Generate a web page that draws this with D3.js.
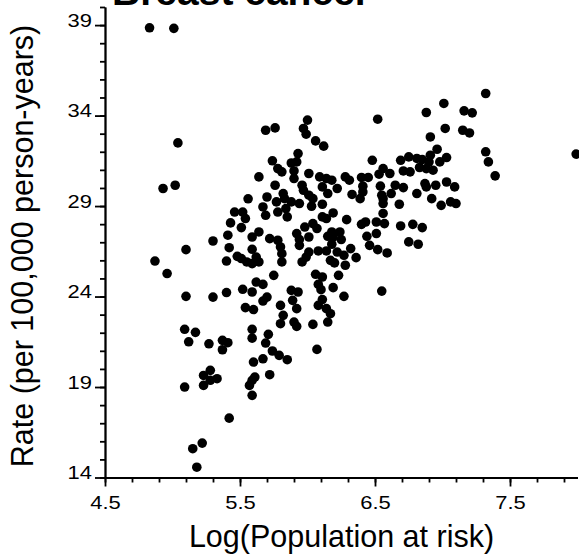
<!DOCTYPE html>
<html>
<head>
<meta charset="utf-8">
<style>
  body { margin: 0; background: #fff; }
  text { font-family: "Liberation Sans", Arial, sans-serif; fill: #000; }
</style>
</head>
<body>
<script src="https://d3js.org/d3.v7.min.js"></script>
<script>
    var width = 579, height = 556;

    // log(population at risk) for each area
    var logPop = [4.83, 5.01, 5.04, 4.93, 5.02, 5.64, 5.56, 5.46, 5.52, 5.54, 5.43, 5.51, 5.41, 5.30, 5.59,
        5.64, 5.10, 5.42, 5.59, 5.48, 5.51, 5.40, 5.55, 5.59, 5.64, 4.87, 4.96, 5.62, 5.10, 5.30,
        5.40, 5.52, 5.59, 5.54, 5.60, 5.09, 5.17, 5.12, 5.27, 5.37, 5.41, 5.37, 5.59, 5.59, 5.60,
        5.09, 5.23, 5.28, 5.28, 5.33, 5.23, 5.61, 5.59, 5.57, 5.59, 5.42, 5.22, 5.15, 5.18,
        7.01, 6.88, 6.52, 6.00, 5.69, 5.76, 5.97, 5.99, 7.02, 6.06, 6.12, 6.91, 6.96, 5.93, 5.74,
        5.88, 5.92, 6.48, 6.69, 6.75, 6.81, 6.85, 6.91, 6.98, 7.03, 5.78, 5.81, 5.90, 5.90, 6.01,
        6.09, 6.14, 6.18, 6.28, 6.31, 6.40, 6.45, 6.53, 6.56, 6.61, 6.71, 6.76, 6.83, 6.88, 6.93,
        6.87, 6.88, 6.95, 7.03, 5.76, 5.96, 5.97, 6.11, 6.22, 6.41, 6.54, 6.65, 6.71, 5.82, 6.41,
        6.33, 6.55, 6.62, 6.81, 6.92, 5.70, 5.77, 5.83, 6.01, 6.04, 6.15, 6.39, 6.56, 5.88, 5.94,
        5.67, 5.84, 6.03, 6.11, 6.56, 6.68, 6.99, 7.06, 5.78, 5.69, 5.85, 6.19, 6.56, 6.11, 6.14,
        6.29, 6.43, 6.51, 6.57, 6.40, 6.69, 6.78, 6.85, 6.04, 6.07, 5.98, 6.18, 6.24, 5.92, 5.78,
        5.72, 5.94, 6.01, 6.15, 6.19, 6.25, 6.44, 6.51, 6.75, 6.82, 5.80, 5.94, 6.18, 6.32, 6.46,
        6.52, 6.59, 5.81, 6.01, 6.08, 6.14, 6.22, 6.27, 6.36, 5.62, 5.81, 5.96, 5.99, 6.17, 6.20,
        6.28, 5.75, 6.06, 6.11, 6.23,
        5.67, 5.88, 5.93, 6.08, 6.10, 6.19, 6.27, 6.55, 5.70, 5.67, 5.89, 5.92, 5.80, 6.11, 6.08,
        6.14, 6.17, 5.82, 5.80, 5.90, 5.92, 6.04, 6.15, 5.71, 5.69, 5.74, 5.67, 5.79, 5.85, 6.07,
        5.72,
        7.32, 7.16, 7.22, 7.15, 7.20, 7.32, 7.34, 7.39, 7.99, 6.90, 7.09, 7.10];

    // rate per 100,000 person-years
    var rate = [38.85, 38.82, 32.49, 29.97, 30.15, 30.61, 29.40, 28.67, 28.67, 28.31, 28.07, 27.81, 27.39, 27.07, 27.29,
        27.57, 26.59, 26.70, 26.61, 26.22, 26.10, 25.96, 25.91, 25.82, 25.91, 25.96, 25.27, 24.80, 24.01, 23.97,
        24.22, 24.40, 24.25, 23.39, 23.28, 22.19, 22.02, 21.50, 21.39, 21.58, 21.45, 21.06, 22.19, 21.70, 20.38,
        19.00, 19.64, 19.92, 19.37, 19.46, 19.09, 19.55, 19.37, 19.09, 18.54, 17.28, 15.90, 15.59, 14.57,
        34.67, 34.17, 33.80, 33.75, 33.19, 33.32, 33.29, 32.97, 33.29, 32.60, 32.31, 32.82, 32.14, 31.90, 31.50,
        31.38, 31.44, 31.53, 31.53, 31.72, 31.63, 31.57, 31.81, 31.44, 31.68, 31.07, 30.89, 30.94, 30.52, 30.80,
        30.61, 30.52, 30.43, 30.61, 30.43, 30.58, 30.58, 30.76, 31.07, 30.80, 30.94, 30.89, 31.13, 31.07, 30.98,
        30.24, 30.06, 30.15, 30.33, 30.15, 30.15, 29.87, 30.06, 29.97, 30.10, 30.10, 30.15, 30.02, 29.69, 29.78,
        29.64, 29.60, 29.69, 29.69, 29.41, 29.50, 29.23, 29.41, 29.60, 29.41, 29.69, 29.41, 29.41, 29.23, 29.14,
        28.95, 28.86, 28.99, 29.10, 29.14, 29.10, 29.04, 29.23, 28.67, 28.49, 28.40, 28.62, 28.59, 28.40, 28.31,
        28.25, 28.12, 28.12, 28.03, 27.99, 27.90, 27.99, 27.81, 28.03, 27.76, 27.84, 27.57, 27.57, 27.48, 27.11,
        27.20, 27.15, 27.29, 27.33, 27.29, 27.15, 27.33, 27.48, 27.02, 26.89, 26.74, 26.83, 26.89, 26.65, 26.83,
        26.59, 26.41, 26.37, 26.46, 26.52, 26.52, 26.46, 26.28, 26.15, 26.18, 25.91, 25.91, 26.18, 26.00, 25.86,
        25.73, 25.17, 25.23, 25.08, 25.17,
        24.67, 24.34, 24.25, 24.67, 24.38, 24.49, 24.01, 24.30, 23.97, 23.75, 23.79, 23.33, 23.51, 23.83, 23.51,
        23.33, 23.05, 22.96, 22.50, 22.59, 22.35, 22.46, 22.59, 21.91, 21.43, 20.99, 20.56, 20.75, 20.51, 21.08,
        19.68,
        35.22, 34.26, 34.15, 33.19, 33.04, 32.00, 31.44, 30.67, 31.87, 31.44, 30.06, 29.14];

    var xTicks = [4.5, 5.5, 6.5, 7.5];
    var yTicks = [14, 19, 24, 29, 34, 39];

    var svg = d3.select('body').append('svg').attr('width', width).attr('height', height);

    var x = d3.scaleLinear().domain([4.5, 8]).range([105, 577.5]);
    var y = d3.scaleLinear().domain([14, 40]).range([477.5, 7]);

    // minor ticks
    svg.append('g').attr('class', 'axis')
        .attr('transform', 'translate(0,' + y(14) + ')')
        .call(d3.axisBottom(x).tickValues(d3.range(4.5, 7.95, 0.2)).tickSize(5).tickSizeOuter(0).tickFormat(''));
    svg.append('g').attr('class', 'axis')
        .attr('transform', 'translate(' + x(4.5) + ',0)')
        .call(d3.axisLeft(y).tickValues(d3.range(14, 40.5, 1)).tickSize(5).tickSizeOuter(0).tickFormat(''));

    // major ticks + labels
    var gx = svg.append('g').attr('class', 'axis')
        .attr('transform', 'translate(0,' + y(14) + ')')
        .call(d3.axisBottom(x).tickValues(xTicks).tickSize(9).tickSizeOuter(0).tickFormat(d3.format('.1f')));
    gx.selectAll('text')
        .attr('y', 0).attr('dy', 0)
        .attr('text-anchor', 'middle')
        .attr('transform', 'translate(0,31) scale(1.22,1)');

    var gy = svg.append('g').attr('class', 'axis')
        .attr('transform', 'translate(' + x(4.5) + ',0)')
        .call(d3.axisLeft(y).tickValues(yTicks).tickSize(10).tickSizeOuter(0).tickFormat(d3.format('d')));
    gy.selectAll('text')
        .attr('x', 0).attr('dy', 0)
        .attr('text-anchor', 'end')
        .attr('transform', 'translate(-13,1) scale(1.22,1)');

    svg.selectAll('.axis path, .axis line').attr('stroke', '#000').attr('stroke-width', 1.8);
    svg.selectAll('.axis text').style('font-size', '18px').attr('fill', '#000')
        .style('font-family', '"Liberation Sans", Arial, sans-serif');

    // points
    svg.append('g').selectAll('circle')
        .data(d3.zip(logPop, rate))
        .join('circle')
        .attr('cx', function (d) { return x(d[0]); })
        .attr('cy', function (d) { return y(d[1]); })
        .attr('r', 4.8)
        .attr('fill', '#000');

    // titles
    svg.append('text')
        .attr('x', 341.5).attr('y', 547)
        .attr('text-anchor', 'middle')
        .style('font-size', '30.5px')
        .text('Log(Population at risk)');

    svg.append('text')
        .attr('transform', 'translate(33,246) rotate(-90)')
        .attr('text-anchor', 'middle')
        .style('font-size', '30.5px')
        .text('Rate (per 100,000 person-years)');

    // title sits partly above the top edge, as in the original figure
    svg.append('text')
        .attr('x', 241).attr('y', 5)
        .attr('text-anchor', 'middle')
        .style('font-size', '39px')
        .style('font-weight', 'bold')
        .text('Breast cancer');
</script>
</body>
</html>
